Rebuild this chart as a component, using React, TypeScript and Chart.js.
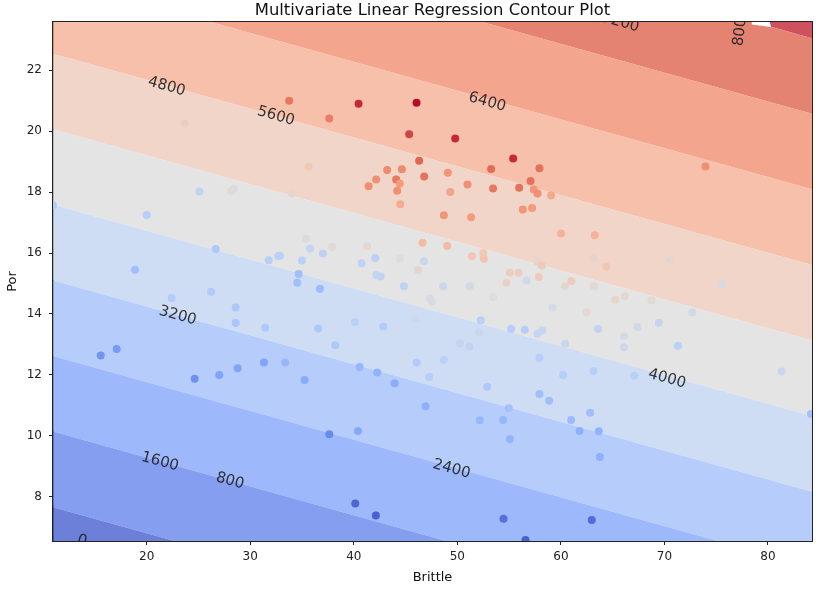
import React, { useEffect, useRef } from 'react';
import { Chart, registerables } from 'chart.js';

Chart.register(...registerables);

// ---- axis ranges & ticks ----
const brittleRange = [10.95, 84.25];
const porRange = [6.55, 23.58];
const xTickValues = [20, 30, 40, 50, 60, 70, 80];
const yTickValues = [8, 10, 12, 14, 16, 18, 20, 22];

// ---- filled contour boundaries (Por at min / max Brittle) ----
const contourLevels = [800, 1600, 2400, 3200, 4000, 4800, 5600, 6400, 7200, 8000];
const contourPorAtMinBrittle = [7.66, 10.14, 12.62, 15.1, 17.58, 20.06, 22.54, 25.02, 27.5, 29.98];
const contourPorAtMaxBrittle = [0.73, 3.21, 5.69, 8.17, 10.65, 13.13, 15.61, 18.09, 20.57, 23.05];
const fillLevelMin = 0;
const fillLevelMax = 8800;
const fillAlpha = 0.8;

// ---- contour labels ----
const labelText = ['0', '800', '1600', '2400', '3200', '4000', '4800', '5600', '6400', '7200', '8000'];
const labelBrittle = [13.76, 28.04, 21.28, 49.44, 22.99, 70.25, 21.93, 32.48, 52.88, 65.75, 77.37];
const labelPor = [6.56, 8.52, 9.15, 8.91, 13.94, 11.87, 21.46, 20.49, 20.95, 23.56, 23.41];
const labelAngleDeg = [15.5, 15.5, 15.5, 15.5, 15.5, 15.5, 15.5, 15.5, 15.5, 15.5, -83];

// small white gap left by the inline label on the top band
const gapBrittle = [78.43, 80.16, 80.3, 78.43];
const gapPor = [23.58, 23.58, 23.42, 23.5];

// ---- wells ----
const wellBrittle = [
  33.76, 40.46, 46.06, 37.63, 45.35, 49.79, 55.39, 46.31, 53.26, 35.64,
  43.22, 44.64, 49.08, 42.16, 44.09, 44.45, 46.8, 41.43, 44.19, 50.98,
  53.45, 55.97, 57.07, 49.31, 44.48, 48.7, 51.33, 56.32, 34.03, 46.64,
  49.02, 51.4, 52.49, 52.56, 35.38, 37.92, 41.29, 35.76, 37.02, 32.87,
  34.99, 40.75, 42.07, 44.45, 46.77, 46.19, 34.67, 34.54, 36.73, 42.2,
  42.59, 44.84, 48.63, 51.21, 55.07, 55.91, 54.75, 56.68, 47.35, 47.54,
  53.45, 40.11, 42.84, 36.56, 45.99, 52.27, 52.1, 55.19, 56.52, 38.21,
  50.24, 51.14, 33.38, 40.56, 42.26, 46.06, 48.7, 47.28, 35.25, 43.94,
  52.88, 46.93, 54.97, 52.17, 54.42, 55.07, 37.63, 40.4, 40.14, 42.13,
  54.46, 56.58, 22.41, 26.21, 28.59, 28.59, 31.45, 15.56, 17.1, 24.63,
  27.01, 28.78, 31.32, 23.67, 25.08, 28.43, 28.14, 10.94, 20.0, 26.66,
  31.78, 32.7, 18.87, 57.93, 73.96, 57.38, 57.74, 59.05, 57.22, 60.02,
  63.27, 63.15, 64.4, 70.58, 57.74, 58.16, 57.87, 61.02, 60.38, 63.18,
  75.6, 59.19, 62.47, 65.23, 66.17, 68.75, 72.7, 57.74, 58.19, 63.59,
  66.1, 67.39, 69.45, 60.41, 66.1, 71.31, 57.93, 60.21, 63.15, 67.07,
  81.32, 57.93, 58.86, 62.82, 60.99, 61.8, 63.66, 63.76, 84.15, 62.98,
];
const wellPor = [
  21.0, 20.9, 20.93, 20.41, 19.9, 19.76, 19.1, 19.03, 18.76, 18.83,
  18.72, 18.75, 18.63, 18.41, 18.41, 18.28, 18.51, 18.19, 18.04, 18.25,
  18.12, 18.14, 18.36, 18.0, 17.6, 17.24, 17.17, 17.43, 17.95, 16.34,
  16.23, 15.89, 16.0, 15.81, 16.47, 16.2, 16.22, 16.15, 15.98, 15.91,
  15.75, 15.66, 15.84, 15.81, 15.73, 15.44, 15.31, 15.02, 14.83, 15.28,
  15.23, 14.91, 14.91, 14.91, 15.35, 15.35, 15.02, 15.1, 14.51, 14.4,
  14.56, 13.74, 13.59, 13.52, 13.83, 13.79, 13.39, 13.51, 13.48, 12.97,
  13.04, 12.92, 12.41, 12.26, 12.08, 12.41, 12.5, 11.93, 11.83, 11.73,
  11.61, 10.97, 10.91, 10.51, 10.52, 9.9, 10.05, 10.16, 7.78, 7.39,
  7.28, 6.58, 14.52, 14.73, 14.21, 13.7, 13.55, 12.64, 12.85, 11.87,
  12.0, 12.22, 12.41, 20.25, 18.02, 18.11, 18.03, 17.57, 17.25, 16.13,
  15.76, 15.9, 15.45, 18.78, 18.84, 18.08, 17.95, 17.89, 17.48, 16.64,
  16.58, 15.82, 15.56, 15.77, 15.71, 15.59, 15.21, 15.07, 14.91, 14.91,
  14.99, 14.2, 14.05, 14.47, 14.58, 14.45, 14.05, 13.35, 13.46, 13.51,
  13.26, 13.56, 13.71, 13.02, 12.91, 12.96, 12.56, 12.0, 12.13, 11.97,
  12.11, 11.37, 11.15, 10.76, 10.52, 10.16, 10.15, 9.31, 10.72, 7.24,
];
const wellProd = [
  7200, 8200, 8500, 7100, 7900, 8200, 8200, 7500, 7400, 5500,
  6900, 6900, 6700, 6800, 7200, 6600, 7300, 6800, 6800, 6800,
  7200, 7300, 7300, 6400, 6200, 6700, 6600, 6700, 5000, 5900,
  5900, 5600, 5500, 5700, 4600, 4850, 4950, 4100, 3900, 3800,
  3800, 3900, 3800, 4700, 4200, 5000, 3200, 3200, 3100, 4100,
  4000, 3900, 4300, 4400, 5300, 5300, 5200, 4400, 4500, 4600,
  4700, 3800, 3600, 3500, 4300, 3800, 4200, 3700, 3700, 3500,
  4100, 4000, 3000, 3000, 2900, 3600, 3800, 3700, 2700, 2700,
  3500, 2800, 3300, 3000, 3000, 2900, 2000, 2600, 1300, 1200,
  1500, 1200, 3600, 3600, 3500, 3400, 3500, 2200, 2300, 2100,
  2500, 2500, 2500, 5300, 4000, 4600, 4900, 3600, 3700, 3500,
  3700, 3800, 3200, 7300, 6800, 6700, 6800, 6300, 6600, 6100,
  6100, 5100, 5600, 5000, 5000, 5500, 5400, 5400, 5000, 4900,
  4500, 4500, 4900, 5000, 4950, 4850, 4400, 4100, 4100, 4000,
  4500, 4400, 4100, 4200, 4300, 3800, 3700, 3700, 3700, 3800,
  4200, 3200, 3200, 3200, 3100, 2800, 2900, 2800, 3300, 1400,
];
const prodColorMin = 840;
const prodColorMax = 8590;

// ---- coolwarm colormap anchors ----
const coolwarmAnchors: number[][] = [
  [59, 76, 192],
  [98, 130, 234],
  [141, 176, 254],
  [184, 208, 249],
  [221, 221, 221],
  [245, 196, 174],
  [244, 153, 122],
  [221, 95, 76],
  [180, 4, 38],
];

function coolwarm(t: number): number[] {
  const c = Math.max(0, Math.min(1, t)) * (coolwarmAnchors.length - 1);
  const i = Math.min(Math.floor(c), coolwarmAnchors.length - 2);
  const f = c - i;
  const a = coolwarmAnchors[i];
  const b = coolwarmAnchors[i + 1];
  return [0, 1, 2].map((k) => Math.round(a[k] + (b[k] - a[k]) * f));
}

const FONT = '"DejaVu Sans", Verdana, sans-serif';

const decorPlugin = {
  id: 'decor',
  afterDatasetDraw(chart: any, args: any) {
    if (args.index !== 1) return;
    const { ctx, chartArea } = chart;
    const xs = chart.scales.x;
    const ys = chart.scales.y;
    ctx.save();
    ctx.beginPath();
    ctx.rect(chartArea.left, chartArea.top, chartArea.right - chartArea.left, chartArea.bottom - chartArea.top);
    ctx.clip();
    // white gap
    ctx.fillStyle = '#ffffff';
    ctx.beginPath();
    gapBrittle.forEach((b, i) => {
      const px = xs.getPixelForValue(b);
      const py = ys.getPixelForValue(gapPor[i]);
      if (i === 0) ctx.moveTo(px, py);
      else ctx.lineTo(px, py);
    });
    ctx.closePath();
    ctx.fill();
    // labels
    ctx.font = `15px ${FONT}`;
    ctx.fillStyle = 'rgba(30,30,30,0.9)';
    ctx.textAlign = 'center';
    ctx.textBaseline = 'middle';
    labelText.forEach((txt, i) => {
      const px = xs.getPixelForValue(labelBrittle[i]);
      const py = ys.getPixelForValue(labelPor[i]);
      ctx.save();
      ctx.translate(px, py);
      ctx.rotate((labelAngleDeg[i] * Math.PI) / 180);
      ctx.fillText(txt, 0, 0);
      ctx.restore();
    });
    ctx.restore();
  },
  afterDraw(chart: any) {
    const { ctx, chartArea } = chart;
    ctx.save();
    ctx.strokeStyle = '#222';
    ctx.lineWidth = 1;
    ctx.strokeRect(
      Math.round(chartArea.left) - 0.5,
      Math.round(chartArea.top) - 0.5,
      Math.round(chartArea.right - chartArea.left) + 1,
      Math.round(chartArea.bottom - chartArea.top) + 1
    );
    ctx.fillStyle = '#111';
    ctx.textAlign = 'center';
    ctx.textBaseline = 'alphabetic';
    ctx.font = `16.4px ${FONT}`;
    ctx.fillText('Multivariate Linear Regression Contour Plot', (chartArea.left + chartArea.right) / 2, 15);
    ctx.font = `13px ${FONT}`;
    ctx.fillText('Brittle', (chartArea.left + chartArea.right) / 2, 581);
    ctx.save();
    ctx.translate(16, (chartArea.top + chartArea.bottom) / 2);
    ctx.rotate(-Math.PI / 2);
    ctx.fillText('Por', 0, 0);
    ctx.restore();
    ctx.restore();
  },
};

export default function App() {
  const canvasRef = useRef<HTMLCanvasElement | null>(null);

  useEffect(() => {
    if (!canvasRef.current) return;
    const bandColor = (k: number) => {
      const mid = contourLevels[0] * k + contourLevels[0] / 2;
      const [r, g, b] = coolwarm((mid - fillLevelMin) / (fillLevelMax - fillLevelMin));
      return `rgba(${r},${g},${b},${fillAlpha})`;
    };
    const lineDatasets: any[] = contourLevels.map((lvl, i) => ({
      type: 'line',
      label: `level ${lvl}`,
      data: [
        { x: brittleRange[0], y: contourPorAtMinBrittle[i] },
        { x: brittleRange[1], y: contourPorAtMaxBrittle[i] },
      ],
      borderWidth: 0,
      borderColor: 'rgba(0,0,0,0)',
      pointRadius: 0,
      showLine: true,
      tension: 0,
      fill: i === 0 ? 'start' : '-1',
      backgroundColor: bandColor(i),
      clip: 0,
      order: 1,
    }));
    const last = contourLevels.length - 1;
    lineDatasets.push({
      type: 'line',
      label: 'top',
      data: [
        { x: brittleRange[0], y: contourPorAtMinBrittle[last] },
        { x: brittleRange[1], y: contourPorAtMaxBrittle[last] },
      ],
      borderWidth: 0,
      borderColor: 'rgba(0,0,0,0)',
      pointRadius: 0,
      showLine: true,
      tension: 0,
      fill: 'end',
      backgroundColor: bandColor(contourLevels.length),
      clip: 0,
      order: 1,
    });

    const pointColors = wellProd.map((p) => {
      const [r, g, b] = coolwarm((p - prodColorMin) / (prodColorMax - prodColorMin));
      return `rgb(${r},${g},${b})`;
    });

    const scatterDs: any = {
      type: 'scatter',
      label: 'wells',
      data: wellBrittle.map((b, i) => ({ x: b, y: wellPor[i] })),
      pointBackgroundColor: pointColors,
      pointBorderColor: pointColors,
      pointBorderWidth: 0,
      pointRadius: 4,
      showLine: false,
      clip: 0,
      order: 0,
    };

    const tickFont = { family: FONT, size: 12 };
    const chart = new Chart(canvasRef.current, {
      type: 'scatter',
      data: { datasets: [scatterDs, ...lineDatasets] },
      options: {
        responsive: false,
        animation: false,
        devicePixelRatio: 1,
        events: [],
        layout: { padding: { left: 0, right: 28, top: 22, bottom: 0 } },
        plugins: {
          legend: { display: false },
          tooltip: { enabled: false },
          title: { display: false },
        },
        scales: {
          x: {
            type: 'linear',
            min: brittleRange[0],
            max: brittleRange[1],
            afterFit: (s: any) => {
              s.height = 49;
            },
            afterBuildTicks: (s: any) => {
              s.ticks = xTickValues.map((v) => ({ value: v }));
            },
            ticks: { font: tickFont, color: '#222', padding: 5, maxRotation: 0, autoSkip: false },
            grid: { drawOnChartArea: false, drawTicks: true, tickLength: 4, tickColor: '#222' },
            border: { display: true, color: '#222' },
          },
          y: {
            type: 'linear',
            min: porRange[0],
            max: porRange[1],
            afterFit: (s: any) => {
              s.width = 53;
            },
            afterBuildTicks: (s: any) => {
              s.ticks = yTickValues.map((v) => ({ value: v }));
            },
            ticks: { font: tickFont, color: '#222', padding: 7, autoSkip: false },
            grid: { drawOnChartArea: false, drawTicks: true, tickLength: 4, tickColor: '#222' },
            border: { display: true, color: '#222' },
          },
        },
      } as any,
      plugins: [decorPlugin],
    });
    return () => chart.destroy();
  }, []);

  return (
    <div style={{ position: 'absolute', left: 0, top: 0, width: 840, height: 590, background: '#fff' }}>
      <canvas ref={canvasRef} width={840} height={590} style={{ display: 'block' }} />
    </div>
  );
}
